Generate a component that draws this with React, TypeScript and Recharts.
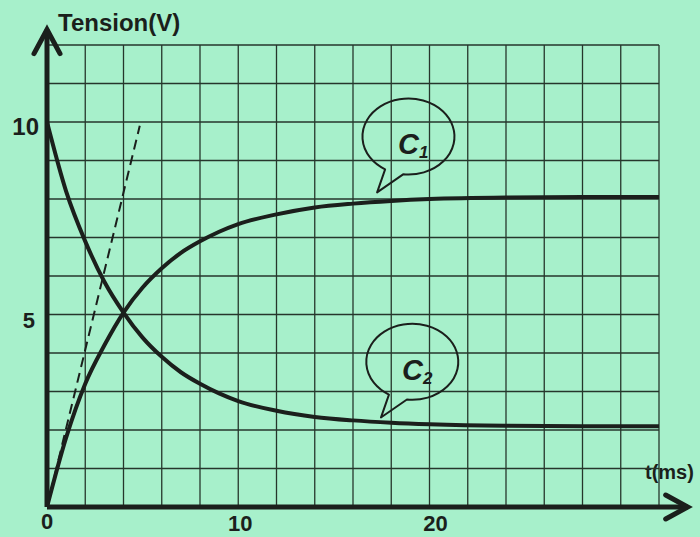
import React from "react";
import {
  LineChart,
  Line,
  XAxis,
  YAxis,
  CartesianGrid,
  ReferenceLine,
  ReferenceDot,
} from "recharts";

// time in ms
const times = [0, 1, 2, 3, 4, 5, 6, 7, 8, 9, 10, 12, 14, 16, 18, 20, 24, 28, 32];
const c1Values = [0, 1.8, 3.2, 4.2, 5.05, 5.7, 6.2, 6.6, 6.9, 7.15, 7.35, 7.6, 7.78, 7.88, 7.95, 8.0, 8.04, 8.05, 8.05];
const c2Values = [10, 8.2, 6.9, 5.85, 5.05, 4.4, 3.9, 3.5, 3.2, 2.95, 2.75, 2.5, 2.34, 2.25, 2.19, 2.15, 2.11, 2.1, 2.1];

const xTicks = [0, 2, 4, 6, 8, 10, 12, 14, 16, 18, 20, 22, 24, 26, 28, 30, 32];
const yTicks = [0, 1, 2, 3, 4, 5, 6, 7, 8, 9, 10, 11, 12];
const xLabels = [0, 10, 20];
const yLabels = [5, 10];

// tangent at origin, bubble anchors and arrow tips (data coords)
const tangentStart = { x: 0, y: 0 };
const tangentEnd = { x: 4.85, y: 9.9 };
const bubbles = [
  { name: "C", sub: "1", x: 19.3, y: 9.55 },
  { name: "C", sub: "2", x: 19.5, y: 3.7 },
];
const xArrowTip = 33.5;
const yArrowTip = 12.4;

const data = times.map((t, i) => ({ t, c1: c1Values[i], c2: c2Values[i] }));

const INK = "#1b1f1c";
const FONT = "'Liberation Sans', Arial, sans-serif";

function XTick({ x, y, payload }: any) {
  const v = payload.value;
  if (!xLabels.includes(v)) return null;
  const dx = v === 0 ? 0 : v === 10 ? 2 : 6;
  const dy = v === 0 ? 22 : 24;
  return (
    <text x={x + dx} y={y + dy} textAnchor="middle" fontFamily={FONT} fontWeight="bold" fontSize={22} fill={INK}>
      {v}
    </text>
  );
}

function YTick({ x, y, payload }: any) {
  const v = payload.value;
  if (!yLabels.includes(v)) return null;
  return (
    <text
      x={v === 10 ? x - 8 : x - 12}
      y={y + 13}
      textAnchor="end"
      fontFamily={FONT}
      fontWeight="bold"
      fontSize={v === 10 ? 24 : 22}
      fill={INK}
    >
      {v}
    </text>
  );
}

function Bubble({ cx, cy, label, sub }: any) {
  const rx = 46;
  const ry = 38;
  const d = `M ${cx - 31} ${cy + 30} A ${rx} ${ry} 0 1 1 ${cx - 13} ${cy + 35} L ${cx - 39} ${cy + 53} Z`;
  return (
    <g>
      <path d={d} fill="none" stroke={INK} strokeWidth={2} strokeLinejoin="round" />
      <text x={cx - 18} y={cy + 15} fontFamily={FONT} fontWeight="bold" fontStyle="italic" fontSize={29} fill={INK}>
        {label}
        <tspan fontSize={17} dy={4}>
          {sub}
        </tspan>
      </text>
    </g>
  );
}

function UpArrow({ cx, cy }: any) {
  return (
    <path d={`M ${cx - 13} ${cy + 24} L ${cx} ${cy} L ${cx + 13} ${cy + 24}`} fill="none" stroke={INK} strokeWidth={5} strokeLinecap="round" />
  );
}

function RightArrow({ cx, cy }: any) {
  return (
    <path d={`M ${cx - 22} ${cy - 12} L ${cx} ${cy} L ${cx - 22} ${cy + 12}`} fill="none" stroke={INK} strokeWidth={5} strokeLinecap="round" />
  );
}

export default function App() {
  return (
    <div style={{ position: "relative", width: 700, height: 537, background: "#a7f0cb", overflow: "hidden" }}>
      <style>{"body{margin:0}"}</style>
      <div style={{ position: "absolute", left: 58, top: 9, fontFamily: FONT, fontWeight: "bold", fontSize: 24, color: INK, lineHeight: "28px" }}>
        Tension(V)
      </div>
      <div style={{ position: "absolute", left: 645, top: 460, fontFamily: FONT, fontWeight: "bold", fontSize: 20, color: INK, lineHeight: "24px" }}>
        t(ms)
      </div>
      <LineChart width={700} height={537} data={data} margin={{ top: 45, right: 41, left: 0, bottom: 0 }}>
        <CartesianGrid stroke="#26362c" strokeWidth={1.3} />
        <XAxis
          dataKey="t"
          type="number"
          domain={[0, 32]}
          ticks={xTicks}
          height={30}
          axisLine={false}
          tickLine={false}
          tickSize={0}
          tickMargin={0}
          tick={<XTick />}
          interval={0}
        />
        <YAxis
          type="number"
          domain={[0, 12]}
          ticks={yTicks}
          width={47}
          axisLine={false}
          tickLine={false}
          tickSize={0}
          tickMargin={0}
          tick={<YTick />}
          interval={0}
        />
        <ReferenceLine segment={[tangentStart, tangentEnd]} stroke={INK} strokeWidth={2} strokeDasharray="10 6" ifOverflow="visible" />
        <Line type="monotone" dataKey="c1" stroke={INK} strokeWidth={4} dot={false} isAnimationActive={false} />
        <Line type="monotone" dataKey="c2" stroke={INK} strokeWidth={4} dot={false} isAnimationActive={false} />
        <ReferenceLine segment={[{ x: 0, y: 0 }, { x: 0, y: yArrowTip }]} stroke={INK} strokeWidth={5} ifOverflow="visible" />
        <ReferenceLine segment={[{ x: 0, y: 0 }, { x: xArrowTip, y: 0 }]} stroke={INK} strokeWidth={5} ifOverflow="visible" />
        <ReferenceDot x={0} y={yArrowTip} ifOverflow="visible" shape={(p: any) => <UpArrow {...p} />} />
        <ReferenceDot x={xArrowTip} y={0} ifOverflow="visible" shape={(p: any) => <RightArrow {...p} />} />
        {bubbles.map((b) => (
          <ReferenceDot
            key={b.sub}
            x={b.x}
            y={b.y}
            ifOverflow="visible"
            shape={(p: any) => <Bubble {...p} label={b.name} sub={b.sub} />}
          />
        ))}
      </LineChart>
    </div>
  );
}
